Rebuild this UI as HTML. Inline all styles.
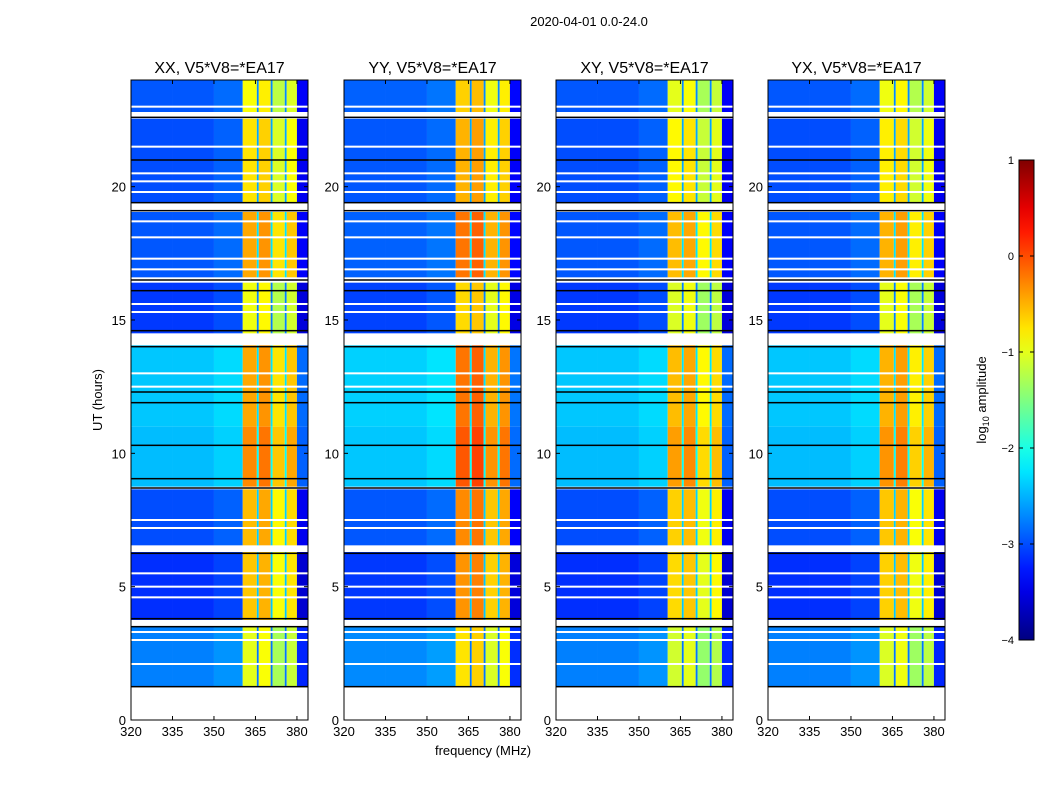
<!DOCTYPE html>
<html><head><meta charset="utf-8"><style>
body{margin:0;background:#fff;width:1050px;height:800px;overflow:hidden;font-family:"Liberation Sans",sans-serif}
svg text{font-family:"Liberation Sans",sans-serif}
</style></head><body>
<svg id="fig" width="1050" height="800" xmlns="http://www.w3.org/2000/svg">
<text x="589" y="26" font-size="13" text-anchor="middle">2020-04-01 0.0-24.0</text>
<text x="483" y="755" font-size="13" text-anchor="middle">frequency (MHz)</text>
<text transform="translate(102,400) rotate(-90)" font-size="13" text-anchor="middle">UT (hours)</text>
<g id="panels"></g>
<g id="cbar"></g>
</svg>
<script>
const panelTitles=["XX, V5*V8=*EA17","YY, V5*V8=*EA17","XY, V5*V8=*EA17","YX, V5*V8=*EA17"];
const panelBandOffset=[0,0.25,-0.1,-0.05];
const panelBgOffset=[0,0.05,0,0];
// frequency columns (MHz edges) and kind: 0=background,1=band,2=stripe
const freqEdges=[320,335,350,360.4,365.5,366.2,370.5,371.2,375.6,376.3,380,384];
const freqKind=[0,0,0,1,2,1,2,1,2,1,0];
const freqGain=[0,0.0,0.1,0,-1.8,0.1,-1.8,-0.3,-1.8,-0.15,-0.45];
// time segments (hours): start, end, background level, band level (log10 amp)
const segStart=[1.25,3.75,6.55,8.75,11.0,14.5,16.6,19.4,22.8];
const segEnd=[3.5,6.3,8.65,11.0,14.05,16.4,19.05,22.55,24];
const segBg=[-2.75,-3.15,-3.0,-2.45,-2.4,-3.1,-2.95,-3.0,-2.95];
const segBand=[-1.0,-0.6,-0.55,-0.3,-0.45,-0.95,-0.45,-0.75,-0.9];
const whiteLines=[2.1,3.0,3.3,4.6,5.0,5.5,7.2,7.5,12.5,13.0,14.3,15.3,15.6,16.9,17.3,18.1,18.7,19.8,20.2,20.5,21.5,23.0];
const blackLines=[1.25,3.5,3.8,6.25,8.7,9.05,10.3,11.9,12.3,14.0,14.6,16.1,16.5,19.1,19.4,21.0,22.6];
const cbTicks=[1,0,-1,-2,-3,-4];
const xTicks=[320,335,350,365,380];
const yTicks=[0,5,10,15,20];

const panelLeft=[131,344,556,768], PW=177, PT=80, PB=720;
function jet(v){ // v in [-4,1]
  let t=Math.max(0,Math.min(1,(v+4)/5));
  const c=x=>Math.max(0,Math.min(1,x));
  const r=c(1.5-Math.abs(4*t-3)),g=c(1.5-Math.abs(4*t-2)),b=c(1.5-Math.abs(4*t-1));
  return `rgb(${Math.round(r*255)},${Math.round(g*255)},${Math.round(b*255)})`;
}
const NS="http://www.w3.org/2000/svg";
function el(tag,attrs,parent){const e=document.createElementNS(NS,tag);for(const k in attrs)e.setAttribute(k,attrs[k]);parent.appendChild(e);return e;}
const panels=document.getElementById('panels');
panelLeft.forEach((L,p)=>{
  const xs=f=>L+(f-320)*PW/64;
  const ys=h=>PB-(h)*(PB-PT)/24;
  const g=el('g',{},panels);
  
  
  for(let s=0;s<segStart.length;s++){
    for(let f=0;f<freqKind.length;f++){
      let v;
      if(freqKind[f]===0) v=segBg[s]+panelBgOffset[p]+freqGain[f];
      else if(freqKind[f]===2) v=segBand[s]+freqGain[f];
      else v=segBand[s]+panelBandOffset[p]+freqGain[f];
      const x0=xs(freqEdges[f]),x1=xs(freqEdges[f+1]);
      const r=el('rect',{x:x0,y:ys(segEnd[s]),width:x1-x0,height:ys(segStart[s])-ys(segEnd[s]),fill:jet(v)},g);
      
      
    }
  }
  whiteLines.forEach(h=>{
    const r=el('rect',{x:L,y:ys(h)-1,width:PW,height:2,fill:'#fff'},g);
    
    
  });
  blackLines.forEach(h=>{
    const r=el('rect',{x:L,y:ys(h)-0.75,width:PW,height:1.5,fill:'#000'},g);
    
    
  });
  el('rect',{x:L,y:PT,width:PW,height:PB-PT,fill:'none',stroke:'#000','stroke-width':1},g);
  const t=el('text',{x:L+PW/2,y:PT-7,'font-size':16,'text-anchor':'middle'},g);
  t.textContent=panelTitles[p];
  
  
  xTicks.forEach(v=>{
    const x=xs(v);
    el('line',{x1:x,x2:x,y1:PB,y2:PB-4,stroke:'#000'},g);
    el('line',{x1:x,x2:x,y1:PT,y2:PT+4,stroke:'#000'},g);
    const tx=el('text',{x:x,y:PB+16,'font-size':13,'text-anchor':'middle'},g);
    tx.textContent=v;
    
    
  });
  yTicks.forEach(v=>{
    const y=ys(v);
    el('line',{x1:L,x2:L+4,y1:y,y2:y,stroke:'#000'},g);
    el('line',{x1:L+PW,x2:L+PW-4,y1:y,y2:y,stroke:'#000'},g);
    const ty=el('text',{x:L-5,y:y+5,'font-size':13,'text-anchor':'end'},g);
    ty.textContent=v;
    
    
  });
});
// colorbar
const cb=document.getElementById('cbar');
const CX=1019,CW=15,CT=160,CB=640;
const defs=el('defs',{},cb);
const lg=el('linearGradient',{id:'jetg',x1:0,y1:1,x2:0,y2:0},defs);
for(let i=0;i<=20;i++){el('stop',{offset:i/20,'stop-color':jet(-4+5*i/20)},lg);}
el('rect',{x:CX,y:CT,width:CW,height:CB-CT,fill:'url(#jetg)',stroke:'#000'},cb);
const cy=v=>CB-(v+4)*(CB-CT)/5;
cbTicks.forEach(v=>{
  const y=cy(v);
  el('line',{x1:CX,x2:CX+4,y1:y,y2:y,stroke:'#000'},cb);
  el('line',{x1:CX+CW,x2:CX+CW-4,y1:y,y2:y,stroke:'#000'},cb);
  const t=el('text',{x:CX-5,y:y+4,'font-size':11,'text-anchor':'end'},cb);
  t.textContent=(v<0?'\u2212'+(-v):v);
  
  
});
const ct=el('text',{transform:'translate(986,400) rotate(-90)','font-size':13,'text-anchor':'middle'},cb);
ct.innerHTML='log<tspan font-size="9" dy="3">10</tspan><tspan dy="-3"> amplitude</tspan>';


</script>
</body></html>
